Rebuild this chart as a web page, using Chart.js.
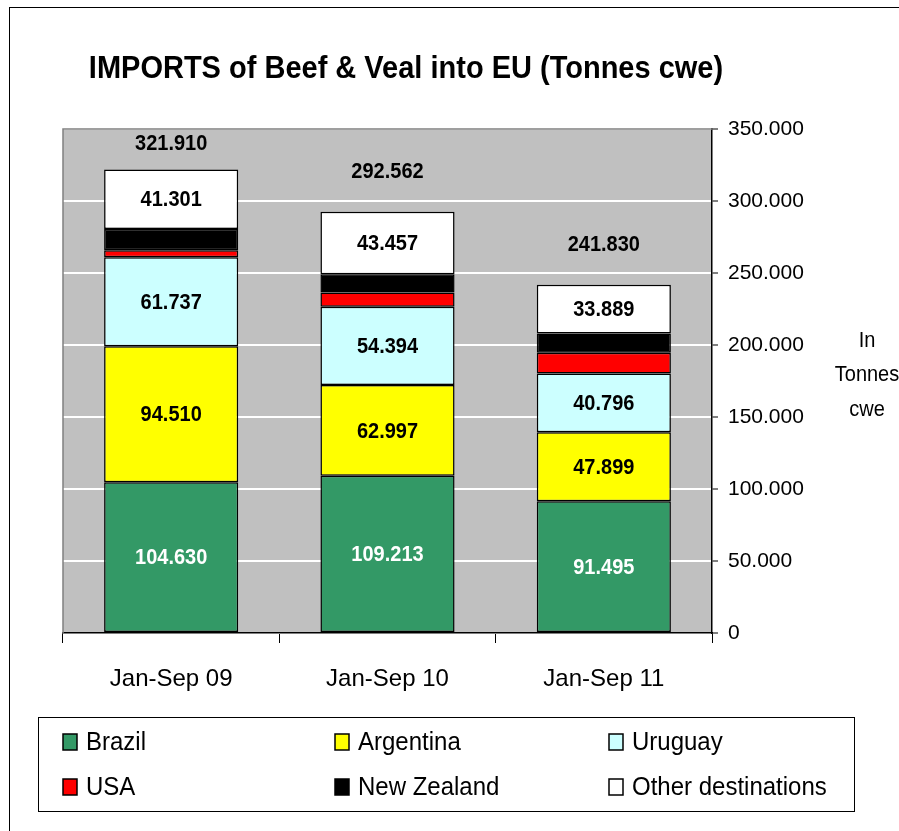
<!DOCTYPE html>
<html>
<head>
<meta charset="utf-8">
<title>IMPORTS of Beef & Veal into EU</title>
<script src="https://cdn.jsdelivr.net/npm/chart.js@4.4.1/dist/chart.umd.min.js"></script>
<style>
   html, body { margin: 0; padding: 0; background: #fff; }
   canvas { display: block; }
</style>
</head>
<body>
<canvas id="imports" width="899" height="831"></canvas>
<script>
// data (tonnes cwe)
const categories = ['Jan-Sep 09', 'Jan-Sep 10', 'Jan-Sep 11'];
const brazil = [104630, 109213, 91495];
const argentina = [94510, 62997, 47899];
const uruguay = [61737, 54394, 40796];
const usa = [5000, 9900, 14400];
const newZealand = [14732, 12601, 13351];
const other = [41301, 43457, 33889];
const yTicks = [0, 50000, 100000, 150000, 200000, 250000, 300000, 350000];

const FONT = '"Liberation Sans", Arial, sans-serif';

// 104630 -> "104.630"
function fmt(n) {
   return Math.round(n).toString().replace(/\B(?=(\d{3})+(?!\d))/g, '.');
}

const totals = categories.map((c, i) =>
   brazil[i] + argentina[i] + uruguay[i] + usa[i] + newZealand[i] + other[i]);

// text drawn a bit taller than wide, like the original export
function tallText(ctx, text, x, y, sy) {
   ctx.save();
   ctx.translate(x, y);
   ctx.scale(1, sy);
   ctx.fillText(text, 0, 0);
   ctx.restore();
}

const decor = {
   id: 'decor',
   beforeDraw(chart) {
      const { ctx, chartArea: a } = chart;
      ctx.save();
      ctx.fillStyle = '#ffffff';
      ctx.fillRect(0, 0, chart.width, chart.height);
      ctx.fillStyle = '#c0c0c0';
      ctx.fillRect(a.left, a.top, a.right - a.left, a.bottom - a.top);
      ctx.restore();
   },
   afterDatasetsDraw(chart) {
      const { ctx, chartArea: a } = chart;
      ctx.save();
      ctx.textAlign = 'center';
      ctx.textBaseline = 'middle';
      ctx.font = 'bold 20px ' + FONT;
      chart.data.datasets.forEach((ds, di) => {
         if (!ds.labelColor) return;
         chart.getDatasetMeta(di).data.forEach((bar, i) => {
            const p = bar.getProps(['x', 'y', 'base'], true);
            ctx.fillStyle = ds.labelColor;
            tallText(ctx, fmt(ds.data[i]), p.x, (p.y + p.base) / 2 + 1, 1.12);
         });
      });
      // totals above each bar
      const last = chart.getDatasetMeta(chart.data.datasets.length - 1);
      ctx.fillStyle = '#000';
      last.data.forEach((bar, i) => {
         const p = bar.getProps(['x', 'y'], true);
         const y = Math.max(a.top + 15, p.y - 40);
         tallText(ctx, fmt(totals[i]), p.x, y, 1.12);
      });
      ctx.restore();
   },
   afterDraw(chart) {
      const { ctx, chartArea: a } = chart;
      ctx.save();
      // plot area frame (top / left)
      ctx.strokeStyle = '#808080';
      ctx.lineWidth = 1.5;
      ctx.beginPath();
      ctx.moveTo(a.left, a.bottom);
      ctx.lineTo(a.left, a.top);
      ctx.lineTo(a.right, a.top);
      ctx.stroke();

      // outer border
      ctx.strokeStyle = '#000';
      ctx.lineWidth = 1;
      ctx.strokeRect(9.5, 7.5, 900, 840);

      // title
      ctx.fillStyle = '#000';
      ctx.textAlign = 'center';
      ctx.textBaseline = 'middle';
      ctx.font = 'bold 29px ' + FONT;
      tallText(ctx, 'IMPORTS of Beef & Veal into EU (Tonnes cwe)', 406, 69, 1.1);

      // unit note to the right of the axis
      ctx.font = '20px ' + FONT;
      tallText(ctx, 'In', 867, 341, 1.12);
      tallText(ctx, 'Tonnes', 867, 375, 1.12);
      tallText(ctx, 'cwe', 867, 410, 1.12);

      // legend box, 3 columns
      ctx.strokeRect(38.5, 717.5, 816, 94);
      const cols = [63, 335, 609];
      const rows = [742, 787];
      ctx.textAlign = 'left';
      ctx.font = '24px ' + FONT;
      chart.data.datasets.forEach((ds, i) => {
         const x = cols[i % 3];
         const y = rows[Math.floor(i / 3)];
         ctx.fillStyle = ds.backgroundColor;
         ctx.fillRect(x, y - 8, 14, 16);
         ctx.lineWidth = 1.5;
         ctx.strokeStyle = '#000';
         ctx.strokeRect(x, y - 8, 14, 16);
         ctx.fillStyle = '#000';
         tallText(ctx, ds.label, x + 23, y + 1, 1.1);
      });
      ctx.restore();
   }
};

const barStyle = {
   borderColor: '#000000',
   borderWidth: 1.5,
   borderSkipped: false,
   barPercentage: 0.62,
   categoryPercentage: 1
};

const graph = document.getElementById('imports');
new Chart(graph, {
   type: 'bar',
   data: {
      labels: categories,
      datasets: [
         { label: 'Brazil', data: brazil, backgroundColor: '#339966', labelColor: '#ffffff', ...barStyle },
         { label: 'Argentina', data: argentina, backgroundColor: '#ffff00', labelColor: '#000000', ...barStyle },
         { label: 'Uruguay', data: uruguay, backgroundColor: '#ccffff', labelColor: '#000000', ...barStyle },
         { label: 'USA', data: usa, backgroundColor: '#ff0000', ...barStyle },
         { label: 'New Zealand', data: newZealand, backgroundColor: '#000000', ...barStyle },
         { label: 'Other destinations', data: other, backgroundColor: '#ffffff', labelColor: '#000000', ...barStyle }
      ]
   },
   options: {
      responsive: false,
      animation: false,
      devicePixelRatio: 1,
      layout: {
         padding: { left: 63, top: 129, right: 87, bottom: 138 }
      },
      scales: {
         x: {
            stacked: true,
            grid: {
               offset: true,
               drawOnChartArea: false,
               tickLength: 10,
               tickColor: '#000000',
               tickWidth: 1
            },
            border: { color: '#000000', width: 1.5 },
            ticks: {
               color: '#000000',
               padding: 22,
               font: { family: FONT, size: 24 }
            },
            afterFit(scale) { scale.height = 60; }
         },
         y: {
            stacked: true,
            position: 'right',
            min: 0,
            max: yTicks[yTicks.length - 1],
            afterBuildTicks(scale) {
               scale.ticks = yTicks.map(v => ({ value: v }));
            },
            grid: {
               color: '#ffffff',
               lineWidth: 2,
               tickColor: '#000000',
               tickLength: 6,
               tickWidth: 1
            },
            border: { color: '#000000', width: 1.5 },
            ticks: {
               color: '#000000',
               padding: 10,
               font: { family: FONT, size: 21 },
               callback: v => fmt(v)
            },
            afterFit(scale) { scale.width = 100; }
         }
      },
      plugins: {
         legend: { display: false },
         title: { display: false },
         tooltip: { enabled: false }
      }
   },
   plugins: [decor]
});
</script>
</body>
</html>
